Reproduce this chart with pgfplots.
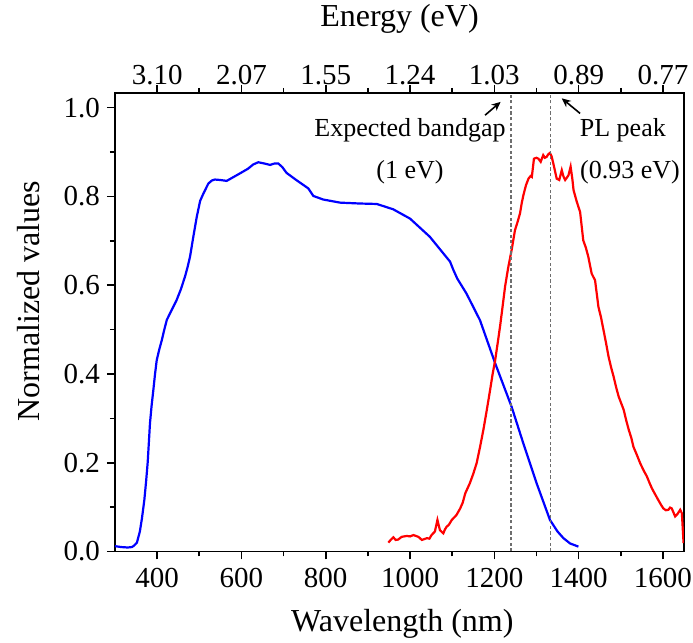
\documentclass[border=0pt]{standalone}
\usepackage{fontspec}
\setmainfont{Liberation Serif}
\usepackage{pgfplots}
\pgfplotsset{compat=1.18}
\usetikzlibrary{arrows.meta}
\definecolor{dashgray}{RGB}{110,110,110}
\begin{document}
\begin{tikzpicture}
\useasboundingbox (-57.5pt,-45.75pt) rectangle (289pt,275.75pt);
\pgfplotsset{
  common/.style={
    scale only axis, width=284.5pt, height=229.25pt,
    xmin=300, xmax=1650, ymin=0, ymax=1.033,
    axis line style={line width=0.9pt, -},
    tick align=outside,
    major tick length=4pt, minor tick length=2.5pt,
    every tick/.style={line width=0.8pt, black},
    /pgf/number format/assume math mode=true,
    tick label style={font=\fontsize{14.5}{16}\selectfont},
    label style={font=\fontsize{16}{18}\selectfont},
  }
}
\begin{axis}[
  common,
  xtick={400,600,...,1600}, minor x tick num=1,
  ytick={0,0.2,0.4,0.6,0.8,1.0}, minor y tick num=1,
  xtick pos=bottom, ytick pos=left,
  xticklabel style={/pgf/number format/1000 sep={}, anchor=base, yshift=-14pt},
  yticklabel style={/pgf/number format/.cd, fixed, fixed zerofill, precision=1},
  xlabel={Wavelength (nm)}, ylabel={Normalized values},
  xlabel style={at={(axis description cs:0.505,0)}, anchor=base, yshift=-40pt},
  ylabel style={at={(axis description cs:0,0.546)}, anchor=base, yshift=37.5pt},
]
\addplot[blue, line width=1.1pt] coordinates {
(300,0.012) (315,0.010) (330,0.009) (340,0.010) (345,0.013) (352,0.020) (359,0.045) (364,0.075) (369.6,0.116) (374,0.16) (377.5,0.20) (380,0.24) (383,0.289) (387,0.33) (391,0.364) (395,0.40) (399,0.431) (405,0.455) (411,0.476) (417,0.50) (423,0.522) (435,0.545) (446,0.566) (456,0.59) (466,0.619) (472,0.64) (478,0.664) (486,0.71) (494,0.754) (502,0.79) (510,0.807) (521.5,0.829) (530,0.836) (537,0.838) (550,0.837) (565,0.835) (580,0.843) (596.6,0.852) (615,0.862) (628,0.872) (640,0.877) (655,0.874) (668,0.871) (678,0.874) (687.6,0.874) (697,0.866) (707,0.853) (730,0.837) (758.7,0.818) (770.6,0.801) (794,0.793) (834,0.786) (881,0.784) (921,0.783) (960,0.771) (1000,0.750) (1047,0.709) (1095,0.653) (1103,0.634) (1112,0.615) (1134,0.581) (1166,0.521) (1202,0.424) (1241,0.326) (1269,0.243) (1300.6,0.153) (1332,0.071) (1350,0.045) (1364,0.030) (1380,0.018) (1399.5,0.011)
};
\addplot[red, line width=1.1pt] coordinates {
(948.6,0.020) (954,0.026) (960.4,0.032) (966,0.026) (972,0.027) (980,0.033) (992,0.035) (1000,0.034) (1008,0.037) (1020,0.033) (1028,0.026) (1040,0.030) (1046,0.029) (1051,0.037) (1059,0.045) (1065,0.071) (1071,0.048) (1079,0.041) (1083,0.050) (1087,0.056) (1092,0.060) (1099,0.071) (1110,0.082) (1119,0.097) (1125,0.110) (1131,0.131) (1142,0.154) (1150,0.175) (1158,0.199) (1166,0.235) (1174,0.274) (1182,0.318) (1190,0.364) (1196,0.40) (1202,0.431) (1208,0.47) (1214,0.510) (1220,0.555) (1225.5,0.597) (1233,0.64) (1241,0.679) (1249,0.724) (1255,0.742) (1261,0.762) (1265,0.785) (1269,0.803) (1275,0.825) (1281,0.840) (1286,0.846) (1289,0.844) (1294,0.885) (1300,0.887) (1304.6,0.885) (1310,0.878) (1316,0.893) (1320,0.887) (1324,0.889) (1328,0.895) (1332,0.898) (1336,0.890) (1340,0.874) (1348,0.840) (1354,0.837) (1360,0.859) (1364,0.845) (1368,0.837) (1372,0.842) (1376,0.848) (1381,0.867) (1385,0.84) (1388,0.814) (1395.6,0.788) (1403.5,0.765) (1411,0.701) (1417,0.685) (1423,0.664) (1431,0.626) (1439,0.611) (1447,0.551) (1453,0.528) (1459,0.499) (1465,0.47) (1471,0.439) (1477,0.415) (1483,0.394) (1489,0.370) (1495,0.349) (1501,0.334) (1507,0.319) (1513,0.295) (1519,0.274) (1525,0.256) (1530,0.236) (1538,0.218) (1546,0.199) (1554,0.183) (1562,0.169) (1568,0.155) (1574,0.142) (1582,0.128) (1589,0.116) (1595,0.106) (1601,0.097) (1607,0.093) (1613,0.094) (1617,0.099) (1621,0.097) (1625,0.088) (1629,0.079) (1635,0.085) (1641,0.094) (1645,0.086) (1649,0.019)
};
\addplot[dashgray, line width=0.75pt, dash pattern=on 1.6pt off 1.2pt] coordinates {(1240,0) (1240,1.033)};
\addplot[dashgray, line width=0.75pt, dash pattern=on 1.6pt off 1.2pt] coordinates {(1333,0) (1333,1.033)};
\node[font=\fontsize{13}{15}\selectfont, anchor=base] at (axis cs:1000,0.935) {Expected bandgap};
\node[font=\fontsize{13}{15}\selectfont, anchor=base] at (axis cs:1000,0.840) {(1 eV)};
\node[font=\fontsize{13}{15}\selectfont, anchor=base] at (axis cs:1505,0.935) {PL peak};
\node[font=\fontsize{13}{15}\selectfont, anchor=base] at (axis cs:1522,0.840) {(0.93 eV)};
\draw[line width=0.8pt, -{Stealth[length=4.5pt,width=4pt]}] (axis cs:1178,0.983) -- (axis cs:1215,1.013);
\draw[line width=0.8pt, -{Stealth[length=4.5pt,width=4pt]}] (axis cs:1403.5,0.987) -- (axis cs:1360,1.021);
\end{axis}
\begin{axis}[
  common,
  axis x line*=top, axis y line=none,
  xtick={400,600,...,1600}, minor x tick num=1,
  xticklabels={3.10,2.07,1.55,1.24,1.03,0.89,0.77},
  xticklabel style={anchor=base, yshift=0pt},
  xlabel={Energy (eV)},
  xlabel style={at={(axis description cs:0.5,1)}, anchor=base, yshift=33pt},
]
\addplot[draw=none] coordinates {(300,0)};
\end{axis}
\end{tikzpicture}
\end{document}
